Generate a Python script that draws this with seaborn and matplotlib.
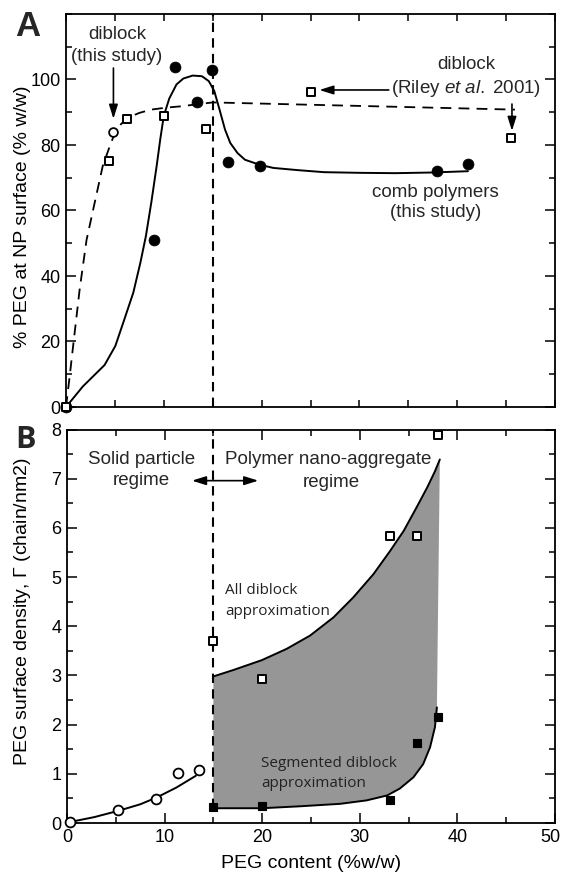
import numpy as np
import pandas as pd
import matplotlib
matplotlib.use("Agg")
import matplotlib.pyplot as plt
from matplotlib.ticker import MultipleLocator
from matplotlib.transforms import ScaledTranslation
import seaborn as sns

sns.set_theme(style="ticks")
plt.rcParams['font.family'] = ['Liberation Sans', 'DejaVu Sans']
plt.rcParams['mathtext.fontset'] = 'custom'
plt.rcParams['mathtext.it'] = 'Liberation Sans:italic'
plt.rcParams['mathtext.rm'] = 'Liberation Sans'
plt.rcParams['axes.linewidth'] = 1.3

# ---------------- Panel A data ----------------
comb_x = [0, 8.98, 11.18, 13.36, 14.97, 16.52, 19.87, 37.97, 41.1]
comb_y = [0, 51, 103.8, 93, 103, 74.8, 73.5, 72.2, 74.3]
comb_fit_x = [0, 1.73, 3.94, 5.04, 5.96, 6.88, 7.6, 8.17, 8.72, 9.27, 9.64, 10.0,
              10.56, 11.3, 12.0, 12.95, 13.9, 14.6, 15.16, 15.7, 16.26, 16.8,
              17.55, 18.3, 19.76, 21.2, 23.8, 26.4, 30.1, 33.7, 37.4, 41.1]
comb_fit_y = [0, 6.3, 12.8, 18.6, 26.7, 34.9, 44, 52.2, 62.4, 73.6, 81.8, 88.9,
              94.2, 98.5, 100.3, 101.2, 101.0, 99.5, 96.5, 90.8, 84.7, 80.6,
              77.5, 75.5, 74.0, 73.0, 72.3, 71.7, 71.5, 71.4, 71.6, 72.0]

riley_x = [0, 4.41, 6.25, 10.0, 14.3, 25.0, 45.5]
riley_y = [0, 75, 88, 89, 85, 96.1, 82.2]
diblock_x = [4.78]
diblock_y = [84]
diblock_fit_x = [0, 0.4, 0.8, 1.4, 2.1, 3.0, 3.75, 4.4, 5.0, 5.6, 6.3, 7.5, 8.7,
                 10.2, 11.7, 15.0, 45.9]
diblock_fit_y = [0, 10, 20.5, 36, 51, 63.3, 73.5, 79, 83.7, 86.3, 88.3, 89.8,
                 90.8, 91.4, 91.8, 93.0, 90.8]

# ---------------- Panel B data ----------------
solid_x = [0.26, 5.26, 9.16, 11.33, 13.5]
solid_y = [0.03, 0.26, 0.49, 1.01, 1.07]
solid_fit_x = [0.3, 2.8, 5.3, 7.5, 9.2, 11.2, 13.2]
solid_fit_y = [0.02, 0.12, 0.25, 0.38, 0.52, 0.72, 0.96]

alldi_x = [15.0, 19.95, 33.1, 35.85, 37.98]
alldi_y = [3.71, 2.93, 5.83, 5.83, 7.88]
seg_x = [15.0, 19.95, 33.1, 35.85, 37.98]
seg_y = [0.32, 0.34, 0.46, 1.62, 2.15]

upper_x = [15.0, 17.04, 19.95, 22.5, 24.9, 27.3, 29.3, 31.4, 33.1, 34.5, 35.8,
           36.9, 37.7, 38.2]
upper_y = [2.98, 3.11, 3.31, 3.54, 3.81, 4.18, 4.58, 5.06, 5.53, 5.94, 6.41,
           6.82, 7.15, 7.39]
lower_x = [15.0, 19.95, 23.9, 28.0, 30.7, 32.8, 34.1, 35.5, 36.5, 37.2, 37.7,
           37.9]
lower_y = [0.30, 0.30, 0.34, 0.39, 0.46, 0.56, 0.70, 0.93, 1.20, 1.54, 1.95,
           2.35]

regime_boundary = 15

W, H = 563, 872
fig = plt.figure(figsize=(W / 100, H / 100), dpi=100)
axA = fig.add_axes([66 / W, 1 - 407 / H, (555 - 66) / W, (407 - 14) / H])
axB = fig.add_axes([67 / W, 1 - 823 / H, (555 - 67) / W, (823 - 429.5) / H])

TICK_FS = 13
for ax in (axA, axB):
    ax.set_facecolor('white')
    for s in ax.spines.values():
        s.set_color('black')
        s.set_linewidth(1.3)
    ax.tick_params(which='both', direction='in', top=True, right=True,
                   colors='black', labelsize=TICK_FS, width=1.1, pad=4)
    ax.tick_params(which='major', length=7)
    ax.tick_params(which='minor', length=4)
    ax.set_xlim(0, 50)

# ---------------- Panel A ----------------
axA.set_ylim(0, 120)
axA.xaxis.set_major_locator(MultipleLocator(5))
axA.set_yticks([0, 20, 40, 60, 80, 100])
axA.yaxis.set_minor_locator(MultipleLocator(10))
axA.tick_params(labelbottom=False)
axA.tick_params(axis='x', which='major', length=5)

axA.axvline(regime_boundary, color='black', lw=1.5, dashes=(4.5, 3), zorder=1)

sns.lineplot(x=diblock_fit_x, y=diblock_fit_y, ax=axA, color='black', lw=1.3,
             sort=False, estimator=None, linestyle=(0, (6.0, 4.0)), zorder=2)
sns.lineplot(x=comb_fit_x, y=comb_fit_y, ax=axA, color='black', lw=1.4,
             sort=False, estimator=None, zorder=2)
sns.scatterplot(x=comb_x, y=comb_y, ax=axA, marker='o', s=62, color='black',
                edgecolor='black', linewidth=0.5, zorder=4, clip_on=False)
sns.scatterplot(x=riley_x, y=riley_y, ax=axA, marker='s', s=30, color='white',
                edgecolor='black', linewidth=1.4, zorder=5, clip_on=False)
sns.scatterplot(x=diblock_x, y=diblock_y, ax=axA, marker='o', s=40, color='white',
                edgecolor='black', linewidth=1.3, zorder=5, clip_on=False)

TXT = 13.5
axA.text(5.2, 113.8, "diblock", ha='center', va='center', fontsize=TXT)
axA.text(5.2, 107.0, "(this study)", ha='center', va='center', fontsize=TXT)
axA.text(40.9, 104.6, "diblock", ha='center', va='center', fontsize=TXT)
axA.text(40.9, 97.2, r"(Riley $\mathit{et\ al.}\;$2001)", ha='center', va='center',
         fontsize=TXT)
axA.text(37.8, 65.5, "comb polymers", ha='center', va='center', fontsize=TXT)
axA.text(37.8, 59.3, "(this study)", ha='center', va='center', fontsize=TXT)

arr = dict(arrowstyle='-|>,head_length=0.7,head_width=0.22', color='black',
           lw=1.2, shrinkA=0, shrinkB=0)
axA.annotate("", xy=(4.85, 88), xytext=(4.85, 103.5), arrowprops=arr)
axA.annotate("", xy=(25.9, 96.8), xytext=(33.0, 96.8), arrowprops=arr)
axA.annotate("", xy=(45.6, 84.3), xytext=(45.6, 92.5), arrowprops=arr)

axA.set_ylabel("% PEG at NP surface (% w/w)", fontsize=14, color='black')
axA.yaxis.set_label_coords(-0.072, 0.483)
axA.set_xlabel("")

# ---------------- Panel B ----------------
axB.set_ylim(0, 8)
axB.set_xticks([0, 10, 20, 30, 40, 50])
axB.xaxis.set_minor_locator(MultipleLocator(5))
axB.yaxis.set_major_locator(MultipleLocator(1))
axB.yaxis.set_minor_locator(MultipleLocator(0.5))

poly_x = np.concatenate([upper_x, lower_x[::-1]])
poly_y = np.concatenate([upper_y, lower_y[::-1]])
axB.fill(poly_x, poly_y, color='#969696', lw=0, zorder=1)

axB.vlines(regime_boundary, lower_y[0], 8, color='black', lw=1.5,
           linestyles=[(0, (4.5, 3))], zorder=2)

sns.lineplot(x=upper_x, y=upper_y, ax=axB, color='black', lw=1.4,
             sort=False, estimator=None, zorder=3)
sns.lineplot(x=lower_x, y=lower_y, ax=axB, color='black', lw=1.4,
             sort=False, estimator=None, zorder=3)
sns.lineplot(x=solid_fit_x, y=solid_fit_y, ax=axB, color='black', lw=1.4,
             sort=False, estimator=None, zorder=3)

sns.scatterplot(x=solid_x, y=solid_y, ax=axB, marker='o', s=50, color='white',
                edgecolor='black', linewidth=1.3, zorder=5, clip_on=False)
sns.scatterplot(x=alldi_x, y=alldi_y, ax=axB, marker='s', s=34, color='white',
                edgecolor='black', linewidth=1.4, zorder=5, clip_on=False)
sns.scatterplot(x=seg_x, y=seg_y, ax=axB, marker='s', s=40, color='black',
                edgecolor='black', linewidth=0.8, zorder=5, clip_on=False)

axB.text(7.6, 7.40, "Solid particle", ha='center', va='center', fontsize=TXT)
axB.text(7.6, 6.96, "regime", ha='center', va='center', fontsize=TXT)
axB.text(26.8, 7.39, "Polymer nano-aggregate", ha='center', va='center', fontsize=TXT)
axB.text(27.1, 6.93, "regime", ha='center', va='center', fontsize=TXT)
arr2 = dict(arrowstyle='<|-|>,head_length=0.7,head_width=0.22', color='black',
            lw=1.2, shrinkA=0, shrinkB=0)
axB.annotate("", xy=(19.6, 6.96), xytext=(12.8, 6.96), arrowprops=arr2)

small = dict(fontsize=11, family=['Open Sans', 'DejaVu Sans'], color='#222222',
             ha='left', va='center')
axB.text(16.2, 4.72, "All diblock", **small)
axB.text(16.2, 4.31, "approximation", **small)
axB.text(19.9, 1.20, "Segmented diblock", **small)
axB.text(19.9, 0.80, "approximation", **small)

axB.set_xlabel("PEG content (%w/w)", fontsize=14, color='black', labelpad=7)
axB.set_ylabel(r"PEG surface density, $\mathit{\Gamma}$ (chain/nm2)", fontsize=14,
               color='black')
axB.yaxis.set_label_coords(-0.070, 0.537)

# nudge the last x tick label inward so it stays inside the canvas
last = axB.xaxis.get_major_ticks()[-1].label1
last.set_transform(last.get_transform() + ScaledTranslation(-5 / 100, 0, fig.dpi_scale_trans))

fig.text(28 / W, 1 - 27 / H, "A", fontsize=25, fontweight='bold', ha='center',
         va='center')
fig.text(26 / W, 1 - 440 / H, "B", fontsize=22, fontweight='bold', ha='center',
         va='center', family=['Open Sans', 'DejaVu Sans'])

fig.savefig("out.png", dpi=100, facecolor='white')
